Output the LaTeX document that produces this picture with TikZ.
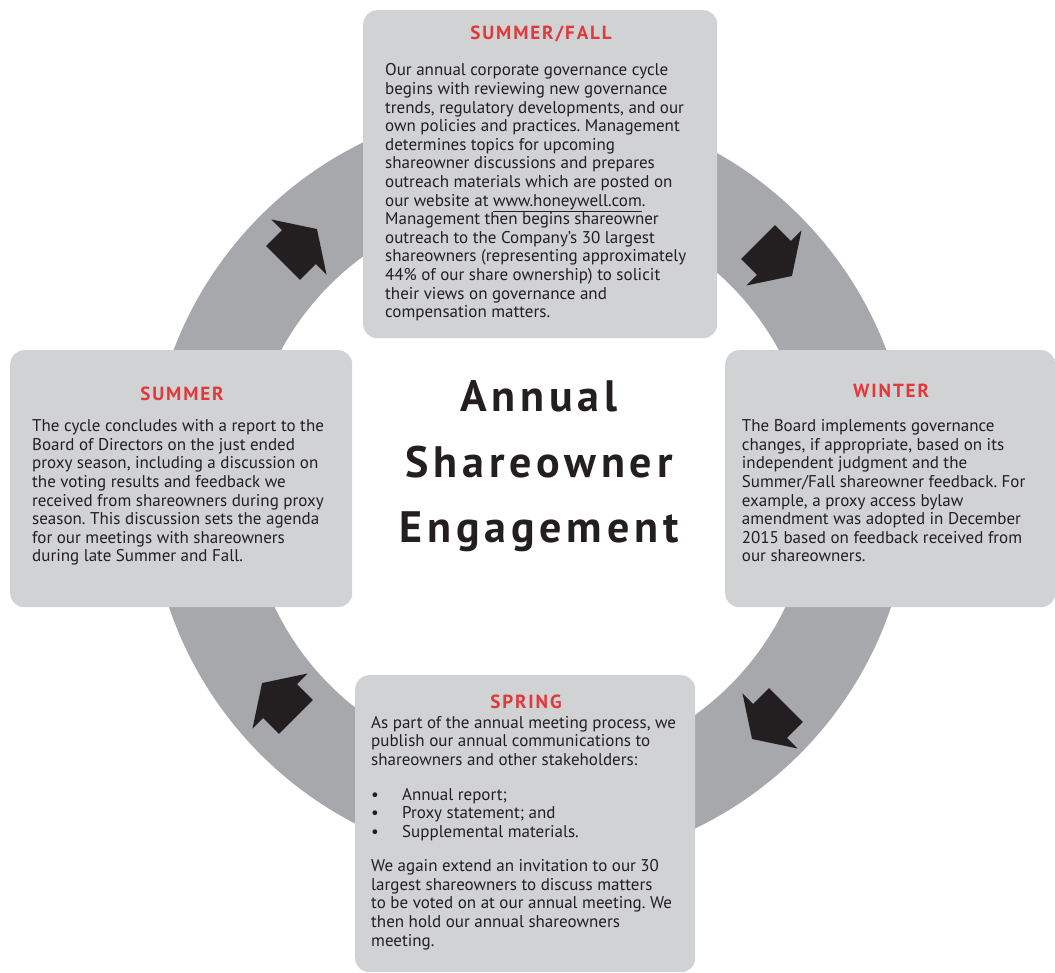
\documentclass[tikz,border=0pt]{standalone}
\usepackage{fontspec}
\setmainfont{PT Sans}
\newfontfamily\titlefont[LetterSpace=11]{PT Sans}
\newfontfamily\seasonfont[LetterSpace=10]{PT Sans}
\definecolor{boxgray}{HTML}{D1D2D4}
\definecolor{ringgray}{HTML}{A7A8AB}
\definecolor{hred}{HTML}{E2383A}
\definecolor{txt}{HTML}{231F20}
\newcommand\bodytext[1]{\parbox[t]{340pt}{\raggedright\frenchspacing #1}}
\tikzset{
  panel/.style={fill=boxgray, draw=none, rounded corners=14pt, inner sep=0pt, anchor=north west},
  season/.style={text=hred, anchor=base, inner sep=0pt, font=\seasonfont\fontsize{19}{20}\selectfont\bfseries},
  body/.style={text=txt, anchor=base west, inner sep=0pt, font=\fontsize{17}{18.6}\selectfont},
  cyclearrow/.pic={\fill[txt] (-24,-24) -- (-1.5,-24) -- (-1.5,-39) -- (24,0) -- (-1.5,39) -- (-1.5,24) -- (-24,24) -- cycle;}
}
\begin{document}
\begin{tikzpicture}[x=1pt,y=-1pt]
\useasboundingbox (0,0) rectangle (1055,973);
% ring
\fill[ringgray, even odd rule] (530,485) circle[radius=381pt] (530,485) circle[radius=283pt];
% arrows
\pic[rotate=45] at (300,246) {cyclearrow};
\pic[rotate=-45] at (775,259) {cyclearrow};
\pic[rotate=-135] at (769,722) {cyclearrow};
\pic[rotate=135] at (279,700) {cyclearrow};
% panels
\node[panel, minimum width=354pt, minimum height=328pt] (topbox) at (363,10) {};
\node[panel, minimum width=342pt, minimum height=257pt] (leftbox) at (10,350) {};
\node[panel, minimum width=330pt, minimum height=257pt] (rightbox) at (725,350) {};
\node[panel, minimum width=340pt, minimum height=297pt] (bottombox) at (355,675) {};
% center title
\node[text=txt, anchor=base, inner sep=0pt] (title) at (539,412)
  {\titlefont\bfseries\fontsize{44}{65.5}\selectfont\begin{tabular}[t]{@{}c@{}}Annual\\Shareowner\\Engagement\end{tabular}};
% top
\node[season] (sftitle) at (541,40) {SUMMER/FALL};
\node[body] (sftext) at (385,76) {\bodytext{Our annual corporate governance cycle\\
begins with reviewing new governance\\
trends, regulatory developments, and our\\
own policies and practices. Management\\
determines topics for upcoming\\
shareowner discussions and prepares\\
outreach materials which are posted on\\
our website at \underline{www.honeywell.com}.\\
Management then begins shareowner\\
outreach to the Company's 30 largest\\
shareowners (representing approximately\\
44\% of our share ownership) to solicit\\
their views on governance and\\
compensation matters.}};
% left
\node[season] (sutitle) at (182,400.7) {SUMMER};
\node[body] (sutext) at (32,431.7) {\bodytext{The cycle concludes with a report to the\\
Board of Directors on the just ended\\
proxy season, including a discussion on\\
the voting results and feedback we\\
received from shareowners during proxy\\
season. This discussion sets the agenda\\
for our meetings with shareowners\\
during late Summer and Fall.}};
% right
\node[season] (wititle) at (891,398) {WINTER};
\node[body] (witext) at (741.7,431.7) {\bodytext{The Board implements governance\\
changes, if appropriate, based on its\\
independent judgment and the\\
Summer/Fall shareowner feedback. For\\
example, a proxy access bylaw\\
amendment was adopted in December\\
2015 based on feedback received from\\
our shareowners.}};
% bottom
\node[season] (sptitle) at (526,708) {SPRING};
\node[body] (sptexta) at (371,728.3) {\bodytext{As part of the annual meeting process, we\\
publish our annual communications to\\
shareowners and other stakeholders:}};
\node[body] (spbullets) at (371,800) {\bodytext{\makebox[31pt][l]{\textbullet}Annual report;\\
\makebox[31pt][l]{\textbullet}Proxy statement; and\\
\makebox[31pt][l]{\textbullet}Supplemental materials.}};
\node[body] (sptextb) at (371,871.7) {\bodytext{We again extend an invitation to our 30\\
largest shareowners to discuss matters\\
to be voted on at our annual meeting. We\\
then hold our annual shareowners\\
meeting.}};
\end{tikzpicture}
\end{document}
